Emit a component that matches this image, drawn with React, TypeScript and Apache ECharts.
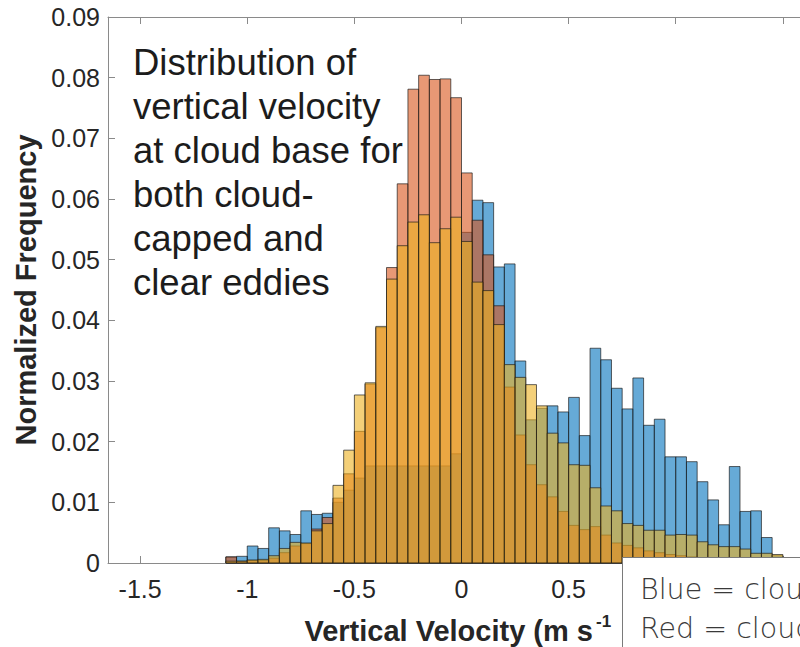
import React, { useEffect, useRef } from "react";
import * as echarts from "echarts";

// Bin left edges (m s^-1), bin width 0.05
const BIN_WIDTH = 0.05;
const BIN_STARTS = [
  -1.10, -1.05, -1.00, -0.95, -0.90, -0.85, -0.80, -0.75, -0.70, -0.65,
  -0.60, -0.55, -0.50, -0.45, -0.40, -0.35, -0.30, -0.25, -0.20, -0.15,
  -0.10, -0.05, 0.00, 0.05, 0.10, 0.15, 0.20, 0.25, 0.30, 0.35,
  0.40, 0.45, 0.50, 0.55, 0.60, 0.65, 0.70, 0.75, 0.80, 0.85,
  0.90, 0.95, 1.00, 1.05, 1.10, 1.15, 1.20, 1.25, 1.30, 1.35,
  1.40, 1.45,
];

// Blue histogram (normalized frequency)
const BLUE = [
  0.0010, 0.0011, 0.0028, 0.0024, 0.0058, 0.0053, 0.0047, 0.0086, 0.0080, 0.0082,
  0.0100, 0.0120, 0.0140, 0.0160, 0.0160, 0.0160, 0.0160, 0.0160, 0.0160, 0.0160,
  0.0160, 0.0180, 0.0545, 0.0598, 0.0594, 0.0488, 0.0493, 0.0333, 0.0236, 0.0255,
  0.0259, 0.0249, 0.0273, 0.0210, 0.0354, 0.0335, 0.0288, 0.0254, 0.0305, 0.0227,
  0.0237, 0.0175, 0.0175, 0.0167, 0.0134, 0.0104, 0.0063, 0.0159, 0.0085, 0.0086,
  0.0042, 0.0012,
];

// Red histogram
const RED = [
  0.0010, 0.0003, 0.0004, 0.0004, 0.0008, 0.0017, 0.0028, 0.0032, 0.0056, 0.0075,
  0.0107, 0.0147, 0.0217, 0.0295, 0.0388, 0.0487, 0.0625, 0.0781, 0.0804, 0.0797,
  0.0798, 0.0767, 0.0643, 0.0565, 0.0508, 0.0424, 0.0290, 0.0211, 0.0162, 0.0129,
  0.0109, 0.0085, 0.0062, 0.0055, 0.0060, 0.0046, 0.0033, 0.0029, 0.0025, 0.0020,
  0.0017, 0.0014, 0.0012, 0.0010, 0.0008, 0.0006, 0.0005, 0.0004, 0.0003, 0.0002,
  0.0002, 0.0001,
];

// Yellow histogram
const YELLOW = [
  0.0003, 0.0003, 0.0005, 0.0006, 0.0012, 0.0024, 0.0034, 0.0033, 0.0053, 0.0065,
  0.0128, 0.0186, 0.0277, 0.0297, 0.0390, 0.0468, 0.0523, 0.0562, 0.0574, 0.0528,
  0.0551, 0.0570, 0.0530, 0.0463, 0.0449, 0.0393, 0.0327, 0.0306, 0.0294, 0.0259,
  0.0214, 0.0198, 0.0162, 0.0161, 0.0124, 0.0094, 0.0086, 0.0065, 0.0062, 0.0054,
  0.0054, 0.0046, 0.0047, 0.0046, 0.0035, 0.0030, 0.0027, 0.0027, 0.0023, 0.0016,
  0.0016, 0.0014,
];

const X_TICKS = [-1.5, -1, -0.5, 0, 0.5, 1, 1.5];
// tick labels visible in the reference (1 and 1.5 lie under the note box)
const X_TICK_LABELS = [-1.5, -1, -0.5, 0, 0.5];
const X_MIN = -1.65;
const X_MAX = 1.65;
const Y_MAX = 0.09;
const Y_STEP = 0.01;

const ANNOTATION = [
  "Distribution of",
  "vertical velocity",
  "at cloud base for",
  "both cloud-",
  "capped and",
  "clear eddies",
];
const LEGEND_LINES = ["Blue = cloud", "Red = cloud"];

const SANS = '"Liberation Sans", Arial, Helvetica, sans-serif';
const AXIS_GRAY = "#8a8a8a";
const TEXT_DARK = "#262626";
const EDGE = "rgba(25,25,25,0.85)";

function histSeries(name: string, values: number[], fill: string) {
  return {
    type: "custom",
    name,
    xAxisIndex: 0,
    yAxisIndex: 0,
    data: BIN_STARTS.map((s, i) => [s, values[i]]),
    encode: { x: 0, y: 1 },
    renderItem: (_params: any, api: any) => {
      const x0 = api.value(0) as number;
      const v = api.value(1) as number;
      const a = api.coord([x0, 0]);
      const b = api.coord([x0 + BIN_WIDTH, v]);
      return {
        type: "rect",
        shape: { x: a[0], y: b[1], width: b[0] - a[0], height: a[1] - b[1] },
        style: { fill, stroke: EDGE, lineWidth: 0.8 },
      };
    },
  };
}

export default function App() {
  const ref = useRef<HTMLDivElement>(null);

  useEffect(() => {
    if (!ref.current) return;
    const chart = echarts.init(ref.current, undefined, { renderer: "svg" });
    const option: any = {
      animation: false,
      backgroundColor: "#ffffff",
      grid: { left: 108, top: 17, right: 0, bottom: 84, containLabel: false },
      xAxis: [
        {
          type: "value",
          position: "bottom",
          min: X_MIN,
          max: X_MAX,
          axisLine: { show: true, onZero: false, lineStyle: { color: AXIS_GRAY, width: 1 } },
          axisTick: { show: true, inside: true, length: 7, customValues: X_TICKS, lineStyle: { color: AXIS_GRAY } },
          axisLabel: {
            show: true,
            customValues: X_TICK_LABELS,
            margin: 13,
            color: TEXT_DARK,
            fontSize: 25,
            fontFamily: SANS,
            formatter: (v: number) => String(v),
          },
          splitLine: { show: false },
        },
        {
          type: "value",
          position: "top",
          min: X_MIN,
          max: X_MAX,
          axisLine: { show: true, onZero: false, lineStyle: { color: AXIS_GRAY, width: 1 } },
          axisTick: { show: true, inside: true, length: 7, customValues: X_TICKS, lineStyle: { color: AXIS_GRAY } },
          axisLabel: { show: false },
          splitLine: { show: false },
        },
      ],
      yAxis: {
        type: "value",
        min: 0,
        max: Y_MAX,
        interval: Y_STEP,
        name: "Normalized Frequency",
        nameLocation: "middle",
        nameGap: 62,
        nameTextStyle: { fontSize: 29, fontWeight: "bold", fontFamily: SANS, color: TEXT_DARK },
        axisLine: { show: true, onZero: false, lineStyle: { color: AXIS_GRAY, width: 1 } },
        axisTick: { show: true, inside: true, length: 7, lineStyle: { color: AXIS_GRAY } },
        axisLabel: {
          margin: 8,
          color: TEXT_DARK,
          fontSize: 25,
          fontFamily: SANS,
          formatter: (v: number) => (v === 0 ? "0" : v.toFixed(2)),
        },
        splitLine: { show: false },
      },
      series: [
        histSeries("Blue", BLUE, "rgba(0,114,189,0.6)"),
        histSeries("Red", RED, "rgba(217,83,25,0.6)"),
        histSeries("Yellow", YELLOW, "rgba(237,177,32,0.6)"),
      ],
      graphic: [
        {
          type: "text",
          x: 133,
          y: 40,
          z: 50,
          style: {
            text: ANNOTATION.join("\n"),
            fontSize: 36.5,
            fontFamily: SANS,
            fill: "#1c1c1c",
            lineHeight: 44,
            verticalAlign: "top",
            align: "left",
          },
        },
        {
          type: "text",
          x: 593,
          y: 631,
          z: 50,
          style: {
            text: "Vertical Velocity (m s",
            fontSize: 29,
            fontWeight: "bold",
            fontFamily: SANS,
            fill: TEXT_DARK,
            align: "right",
            verticalAlign: "middle",
          },
        },
        {
          type: "text",
          x: 596,
          y: 621,
          z: 50,
          style: {
            text: "-1",
            fontSize: 17,
            fontWeight: "bold",
            fontFamily: SANS,
            fill: TEXT_DARK,
            align: "left",
            verticalAlign: "middle",
          },
        },
        {
          type: "rect",
          z: 100,
          shape: { x: 622.5, y: 557.5, width: 220, height: 120 },
          style: { fill: "#ffffff", stroke: "#7a7a7a", lineWidth: 1 },
        },
        {
          type: "text",
          x: 640,
          y: 589,
          z: 101,
          style: {
            text: LEGEND_LINES[0],
            fontSize: 28.5,
            fontWeight: 200,
            fontFamily: '"DejaVu Sans", sans-serif',
            fill: "#3a3a3a",
            align: "left",
            verticalAlign: "middle",
          },
        },
        {
          type: "text",
          x: 640,
          y: 628,
          z: 101,
          style: {
            text: LEGEND_LINES[1],
            fontSize: 28.5,
            fontWeight: 200,
            fontFamily: '"DejaVu Sans", sans-serif',
            fill: "#3a3a3a",
            align: "left",
            verticalAlign: "middle",
          },
        },
      ],
    };
    chart.setOption(option);
    return () => {
      chart.dispose();
    };
  }, []);

  return (
    <div
      style={{
        position: "absolute",
        left: 0,
        top: 0,
        width: 800,
        height: 647,
        overflow: "hidden",
        background: "#ffffff",
      }}
    >
      <div ref={ref} style={{ width: 815, height: 647 }} />
    </div>
  );
}
